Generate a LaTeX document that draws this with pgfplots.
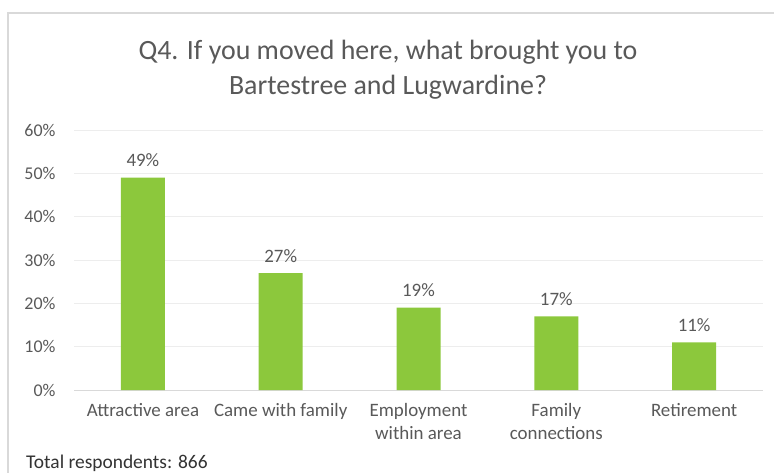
\documentclass[border=0pt]{standalone}
\usepackage{pgfplots}
\pgfplotsset{compat=1.18}
\usepackage{fontspec}
\setmainfont{Carlito}
\definecolor{bargreen}{HTML}{8CC83C}
\definecolor{txt}{HTML}{595959}
\definecolor{gridc}{HTML}{EDEDED}
\definecolor{framec}{HTML}{D9D9D9}
\begin{document}
\begin{tikzpicture}[x=1bp,y=1bp]
\useasboundingbox (0,0) rectangle (774,-473);
\fill[white] (0,0) rectangle (774,-473);
\draw[framec, line width=1.2bp] (8,-13) rectangle (776,-476);
\node[txt, font=\fontsize{28}{35}\selectfont, align=center] at (388,-70) {Q4. If you moved here, what brought you to\\Bartestree and Lugwardine?};
\begin{axis}[
  at={(74bp,-390bp)}, anchor=south west,
  scale only axis, width=689bp, height=260bp,
  ymin=0, ymax=60, xmin=-0.5, xmax=4.5,
  ybar, bar width=44bp,
  ytick={0,10,...,60},
  yticklabel={\pgfmathprintnumber{\tick}\%},
  /pgf/number format/assume math mode=true,
  xtick=data,
  xticklabels={Attractive area, Came with family, Employment\\within area, Family\\connections, Retirement},
  xticklabel style={align=center, text=txt, font=\fontsize{19}{23}\selectfont, yshift=-10bp},
  yticklabel style={text=txt, font=\fontsize{18}{20}\selectfont, xshift=-15bp},
  ymajorgrids, grid style={gridc, line width=0.8bp},
  major tick length=0pt,
  axis x line*=bottom, axis y line*=left,
  y axis line style={draw=none},
  x axis line style={draw=framec, line width=0.8bp, -},
  nodes near coords={\pgfmathprintnumber{\pgfplotspointmeta}\%},
  nodes near coords style={text=txt, font=\fontsize{19}{21}\selectfont, yshift=7bp},
  every node near coord/.append style={/pgf/number format/assume math mode=true},
  clip=false,
]
\addplot[fill=bargreen, draw=none] coordinates {(0,49) (1,27) (2,19) (3,17) (4,11)};
\end{axis}
\node[anchor=west, text=black!80, font=\fontsize{19.5}{21}\selectfont, inner sep=0pt] at (26,-463) {Total respondents: 866};
\end{tikzpicture}
\end{document}
